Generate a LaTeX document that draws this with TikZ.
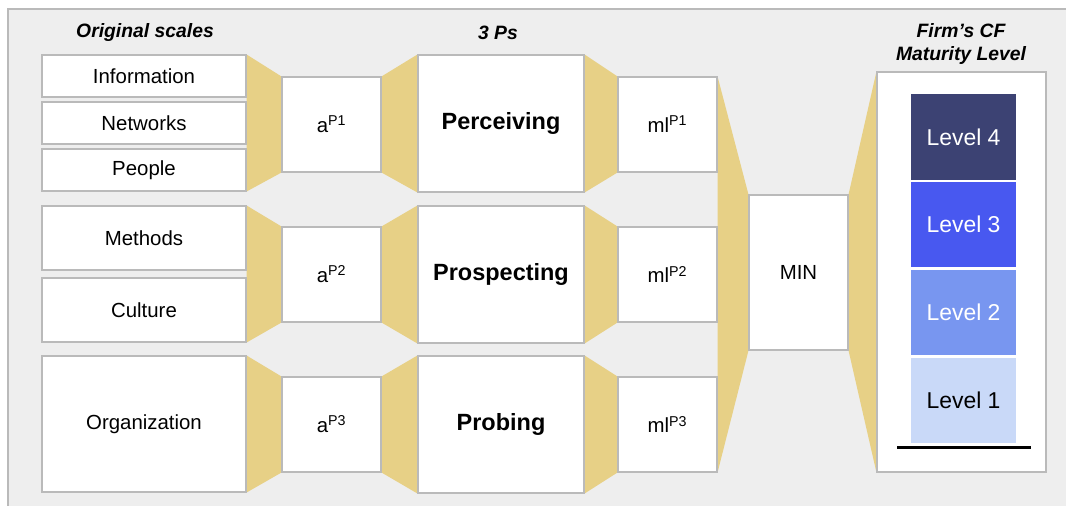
\documentclass[tikz,border=0pt]{standalone}
\usepackage{fontspec}
\setmainfont{Liberation Sans}
\usepackage{tikz}
\usetikzlibrary{backgrounds}
\definecolor{panelgray}{RGB}{238,238,238}
\definecolor{edgegray}{RGB}{186,186,186}
\definecolor{funnelc}{RGB}{231,208,134}
\definecolor{lvlfour}{RGB}{60,66,115}
\definecolor{lvlthree}{RGB}{72,88,240}
\definecolor{lvltwo}{RGB}{120,150,240}
\definecolor{lvlone}{RGB}{201,217,248}

\begin{document}
\begin{tikzpicture}[x=0.75pt, y=-0.75pt,
    box/.style={draw=edgegray, fill=white, line width=0.8pt, inner sep=0pt,
      font=\fontsize{15.3}{18}\selectfont},
    scalebox/.style={box, minimum width=153pt},
    smallbox/.style={box, minimum width=74.25pt, minimum height=71.25pt},
    pbox/.style={box, minimum width=124.5pt, minimum height=102.75pt,
      font=\fontsize{17.6}{20}\selectfont\bfseries},
    level/.style={minimum width=78.75pt, minimum height=63.75pt, inner sep=0pt,
      text=white, font=\fontsize{17.2}{20}\selectfont},
    head/.style={font=\fontsize{14.5}{17.2}\selectfont\bfseries\itshape, align=center},
    funnel/.style={fill=funnelc}]
   	 \useasboundingbox (0,0) rectangle (1066,506);

   	 \node[head] (hscales) at (145,33) {Original scales};
   	 \node[head] (hps) at (498,33) {3 Ps};
   	 \node[head] (hfirm) at (961,44) {Firm’s CF\\Maturity Level};

   	 \node[scalebox, minimum height=31.5pt] (info) at (144,76) {Information};
   	 \node[scalebox, minimum height=31.5pt] (netw) at (144,123) {Networks};
   	 \node[scalebox, minimum height=31.5pt] (people) at (144,170) {People};
   	 \node[scalebox, minimum height=48pt] (methods) at (144,238) {Methods};
   	 \node[scalebox, minimum height=48pt] (culture) at (144,310) {Culture};
   	 \node[scalebox, minimum height=102pt] (org) at (144,424) {Organization};

   	 \node[smallbox] (ap1) at (331.5,124.5) {a\textsuperscript{P1}};
   	 \node[smallbox] (ap2) at (331.5,274.5) {a\textsuperscript{P2}};
   	 \node[smallbox] (ap3) at (331.5,424.5) {a\textsuperscript{P3}};

   	 \node[pbox] (perc) at (501,123.5) {Perceiving};
   	 \node[pbox] (prosp) at (501,274.5) {Prospecting};
   	 \node[pbox] (prob) at (501,424.5) {Probing};

   	 \node[smallbox] (ml1) at (667.5,124.5) {ml\textsuperscript{P1}};
   	 \node[smallbox] (ml2) at (667.5,274.5) {ml\textsuperscript{P2}};
   	 \node[smallbox] (ml3) at (667.5,424.5) {ml\textsuperscript{P3}};

   	 \node[smallbox, minimum height=116.25pt] (min) at (798.5,272.5) {MIN};

   	 \node[box, minimum width=126.75pt, minimum height=300pt] (panel) at (961.5,272) {};
   	 \node[level, fill=lvlfour] (l4) at (963.5,137) {Level 4};
   	 \node[level, fill=lvlthree] (l3) at (963.5,224.5) {Level 3};
   	 \node[level, fill=lvltwo] (l2) at (963.5,312) {Level 2};
   	 \node[level, fill=lvlone, text=black] (l1) at (963.5,400) {Level 1};
   	 \draw[line width=2.25pt] (897,447) -- (1031,447);

   	 \begin{scope}[on background layer]
   	 \draw[draw=edgegray, fill=panelgray, line width=0.8pt] (8,9) rectangle (1075,515);
   	 \fill[funnel] (info.north east) -- (ap1.north west) -- (ap1.south west) -- (people.south east) -- cycle;
   	 \fill[funnel] (methods.north east) -- (ap2.north west) -- (ap2.south west) -- (culture.south east) -- cycle;
   	 \fill[funnel] (org.north east) -- (ap3.north west) -- (ap3.south west) -- (org.south east) -- cycle;
   	 \fill[funnel] (ap1.north east) -- (perc.north west) -- (perc.south west) -- (ap1.south east) -- cycle;
   	 \fill[funnel] (ap2.north east) -- (prosp.north west) -- (prosp.south west) -- (ap2.south east) -- cycle;
   	 \fill[funnel] (ap3.north east) -- (prob.north west) -- (prob.south west) -- (ap3.south east) -- cycle;
   	 \fill[funnel] (perc.north east) -- (ml1.north west) -- (ml1.south west) -- (perc.south east) -- cycle;
   	 \fill[funnel] (prosp.north east) -- (ml2.north west) -- (ml2.south west) -- (prosp.south east) -- cycle;
   	 \fill[funnel] (prob.north east) -- (ml3.north west) -- (ml3.south west) -- (prob.south east) -- cycle;
   	 \fill[funnel] (ml1.north east) -- (min.north west) -- (min.south west) -- (ml3.south east) -- cycle;
   	 \fill[funnel] (min.north east) -- (panel.north west) -- (panel.south west) -- (min.south east) -- cycle;
   	 \end{scope}
\end{tikzpicture}
\end{document}
